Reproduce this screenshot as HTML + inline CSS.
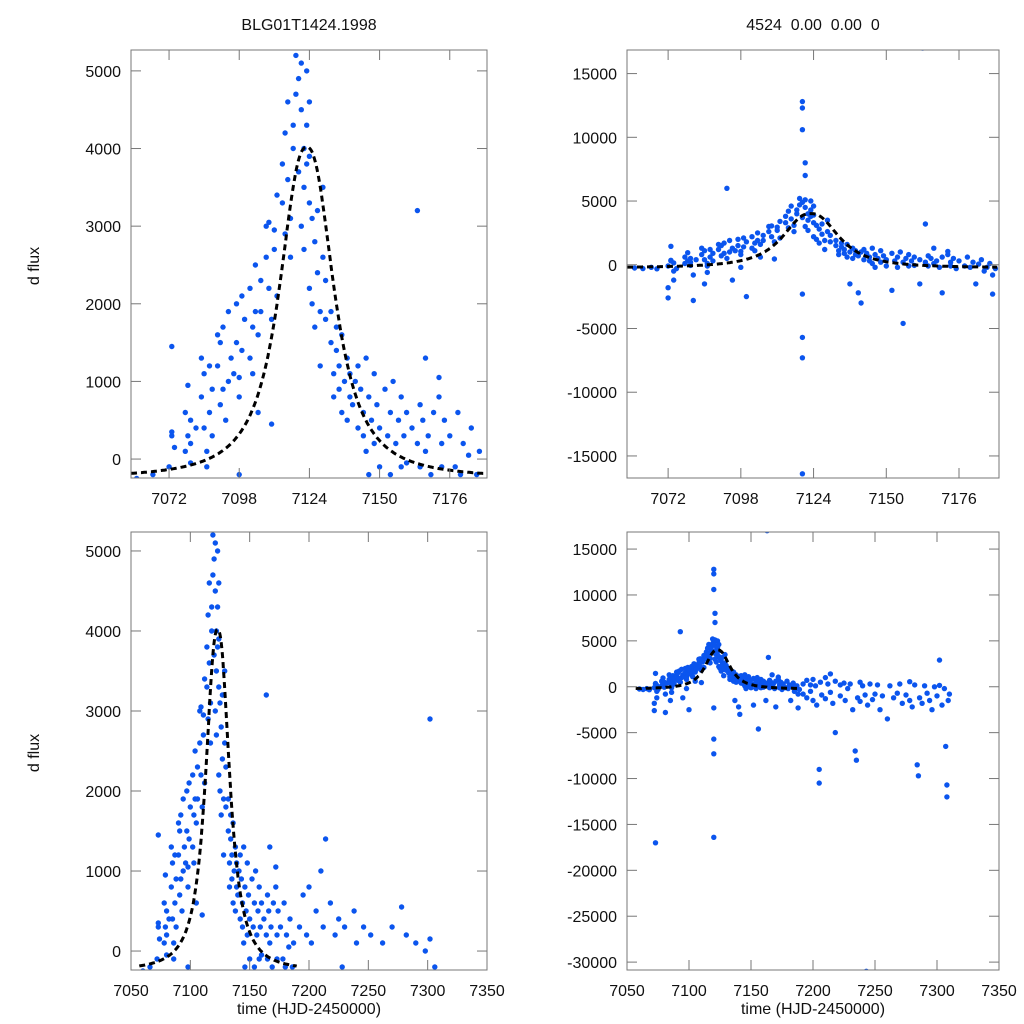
<!DOCTYPE html>
<html><head><meta charset="utf-8"><style>
html,body{margin:0;padding:0;background:#fff;overflow:hidden;width:1024px;height:1024px}
svg{display:block}
svg text{font-family:"Liberation Sans",sans-serif;font-size:16px;fill:#111}
</style></head><body>
<svg id="chart" width="1024" height="1024" xmlns="http://www.w3.org/2000/svg"></svg>
<script>
const times=[7060,7063,7066,7068,
7072,7072,7072,7073,7073,7073,7074,7074,7073,7074,7075,
7078,7078,7079,7079,7080,7080,7081,7081,7080,7082,
7084,7084,7085,7085,7086,7086,7087,7087,7088,7085,7086,7088,
7090,7090,7091,7091,7092,7092,7093,7093,7094,7094,7095,7095,
7096,7097,7097,7098,7098,7099,7099,7100,7100,7098,
7102,7102,7103,7103,7104,7104,7105,7105,7106,7106,
7108,7108,7109,7109,7110,7110,7111,7111,7112,7112,
7114,7114,7115,7115,7116,7116,7117,7117,7118,7118,
7119,7119,7120,7120,7120,7120,7120,7120,7120,7120,7120,7121,7121,7121,7121,7121,7122,7122,7122,7123,7123,7123,7124,7124,7124,7124,
7125,7125,7126,7126,7127,7127,7128,7128,7129,7129,7130,7130,
7132,7132,7133,7133,7134,7134,7135,7135,7136,7136,7137,7137,7138,7138,7139,7139,7140,7140,7141,7141,
7142,7142,7143,7144,7144,7145,7145,7146,7146,7147,7148,7148,7149,7150,7150,
7152,7152,7153,7154,7154,7155,7156,7156,7157,7158,7158,7159,7160,7160,
7162,7162,7163,7164,7164,7165,7165,7166,7167,7167,7168,7169,7170,7170,
7172,7172,7173,7173,7174,7175,7176,7178,7179,7180,7181,7182,7183,7184,7185,7186,7187,7188,7188,7189,
7192,7192,7195,7195,7198,7198,7200,7200,7202,7203,7205,7205,7206,7207,7210,7210,7212,7214,7214,7216,7218,7218,7222,7222,7225,7226,7228,7230,7232,7234,7235,7236,7238,7238,7240,7242,7243,7244,7246,7248,7250,7252,7254,7256,7260,7262,7265,7268,7270,7272,7275,7278,7278,7280,7282,7284,7285,7286,7288,7290,7292,7294,7296,7298,7300,7302,7302,7304,7306,7307,7308,7308,7309,7310];
const fluxes=[-250,-300,-200,-320,
-100,-1800,-2600,1450,300,350,-500,-1200,-17000,150,-300,
100,600,950,300,500,-50,-800,-2800,200,400,
1300,800,1100,400,100,-100,1200,600,300,-1500,-600,900,
1600,1200,700,1500,900,1700,6000,500,1000,1900,1300,-1200,
1100,2000,1500,800,1050,2100,1400,-2500,1800,-200,
1300,2200,1700,1100,2500,1900,1600,600,2300,1900,
3000,2600,3050,2200,1800,450,2700,2950,3400,2100,
3800,3300,4200,2900,3600,4600,2600,3100,4000,4300,
4700,5200,4900,3700,12800,12300,10600,-2300,-5700,-7300,-16400,8000,7000,4500,3000,5100,4000,3500,2700,4300,3800,5000,3300,2200,4600,3900,
3100,2000,2800,1700,3200,2400,1900,1200,2600,3500,1800,2300,
1500,1900,1100,800,1700,1400,900,1200,1600,600,1000,-1500,1300,500,800,1100,700,-2200,1000,-3000,
400,1200,900,300,600,1300,100,800,-200,500,1100,200,700,-100,400,
900,-2000,300,600,-200,1000,200,-4600,500,-100,800,300,600,-50,
400,-1500,17000,3200,200,700,-100,500,1300,100,300,-200,600,-2200,
1050,800,200,-100,500,-300,300,-100,600,-200,200,-1500,50,400,-500,-200,100,-2300,-800,-300,
300,-800,700,-1200,200,-500,800,-1500,100,-2000,-9000,-10500,500,-900,1000,-1300,300,1400,-600,-1800,600,-5000,200,-1000,400,-1500,-200,300,-2500,-7000,-8000,-1200,500,-1600,100,-900,-31000,-2000,300,-1400,-800,200,-2500,-1000,-3500,100,-1200,-700,300,-1800,-900,550,-1500,-2200,200,-8500,-9700,-1200,-1800,100,-700,-1500,-2500,0,-1000,2900,150,-2000,-200,-6500,-10700,-12000,-1500,-800];
const modelParams=[7123,4267,11.5,2.4,-250]; // t0, amplitude, width, shape, base
const modelRange=[7057,7190];
const topXTicks=[7072,7098,7124,7150,7176];
const botXTicks=[7050,7100,7150,7200,7250,7300,7350];
const leftTopYTicks=[0,1000,2000,3000,4000,5000];
const leftBotYTicks=[0,1000,2000,3000,4000,5000];
const rightTopYTicks=[-15000,-10000,-5000,0,5000,10000,15000];
const rightBotYTicks=[-30000,-25000,-20000,-15000,-10000,-5000,0,5000,10000,15000];

const NS="http://www.w3.org/2000/svg";
const svg=document.getElementById('chart');
function mk(tag,attrs,parent){const e=document.createElementNS(NS,tag);for(const k in attrs)e.setAttribute(k,attrs[k]);(parent||svg).appendChild(e);return e;}
function model(t){const [t0,A,w,p,b]=modelParams;return b+A/(1+Math.pow(Math.abs(t-t0)/w,p));}

const panels=[
 {id:'top-left',x0:131,x1:487,y0:50,y1:478,xd:[7057.9,7189.8],yd:[-244,5269],xt:topXTicks,yt:leftTopYTicks,ylab:true,xlab:false},
 {id:'top-right',x0:627,x1:999,y0:50,y1:478,xd:[7057.3,7190.3],yd:[-16730,16850],xt:topXTicks,yt:rightTopYTicks,ylab:false,xlab:false},
 {id:'bottom-left',x0:131,x1:487,y0:532,y1:970,xd:[7050,7350],yd:[-237,5237],xt:botXTicks,yt:leftBotYTicks,ylab:true,xlab:true},
 {id:'bottom-right',x0:627,x1:999,y0:532,y1:970,xd:[7050,7350],yd:[-30860,16860],xt:botXTicks,yt:rightBotYTicks,ylab:false,xlab:true}
];
panels.forEach((p,i)=>{
 const sx=v=>p.x0+(v-p.xd[0])/(p.xd[1]-p.xd[0])*(p.x1-p.x0);
 const sy=v=>p.y1-(v-p.yd[0])/(p.yd[1]-p.yd[0])*(p.y1-p.y0);
 const g=mk('g',{});
 
 
 const cp=mk('clipPath',{id:'clip'+i},g);
 mk('rect',{x:p.x0,y:p.y0,width:p.x1-p.x0,height:p.y1-p.y0},cp);
 const pts=mk('g',{'clip-path':'url(#clip'+i+')'},g);
 
 
 for(let k=0;k<times.length;k++){
  const c=mk('circle',{cx:sx(times[k]).toFixed(1),cy:sy(fluxes[k]).toFixed(1),r:2.7,fill:'#0b55ee'},pts);
  
  
 }
 let d='';
 const ta=Math.max(p.xd[0],modelRange[0]),tb=Math.min(p.xd[1],modelRange[1]);
 for(let t=ta;t<=tb;t+=(tb-ta)/400){d+=(d?'L':'M')+sx(t).toFixed(1)+','+sy(model(t)).toFixed(1);}
 const ln=mk('path',{d:d,fill:'none',stroke:'#000','stroke-width':3,'stroke-dasharray':'6,4','clip-path':'url(#clip'+i+')'},g);
 
 
 const fr=mk('rect',{x:p.x0,y:p.y0,width:p.x1-p.x0,height:p.y1-p.y0,fill:'none',stroke:'#777','stroke-width':1},g);
 
 
 p.xt.forEach(v=>{const x=sx(v);
  mk('line',{x1:x,x2:x,y1:p.y1,y2:p.y1-10,stroke:'#777'},g);
  mk('line',{x1:x,x2:x,y1:p.y0,y2:p.y0+10,stroke:'#777'},g);
  const t=mk('text',{x:x,y:p.y1+26,'text-anchor':'middle'},g);t.textContent=v;
  
  
 });
 p.yt.forEach(v=>{const y=sy(v);
  mk('line',{x1:p.x0,x2:p.x0+10,y1:y,y2:y,stroke:'#777'},g);
  mk('line',{x1:p.x1,x2:p.x1-10,y1:y,y2:y,stroke:'#777'},g);
  const t=mk('text',{x:p.x0-10,y:y+6,'text-anchor':'end'},g);t.textContent=v;
  
  
 });
 if(p.ylab){const t=mk('text',{transform:'translate(39,'+((p.y0+p.y1)/2+2)+') rotate(-90)','text-anchor':'middle'},g);t.textContent='d flux';
  
  }
 if(p.xlab){const t=mk('text',{x:(p.x0+p.x1)/2,y:1014,'text-anchor':'middle'},g);t.textContent='time (HJD-2450000)';
  
  }
});
const t1=mk('text',{x:309,y:30,'text-anchor':'middle'});t1.textContent='BLG01T1424.1998';


const t2=mk('text',{x:813,y:30,'text-anchor':'middle'});t2.textContent='4524\u00a0\u00a00.00\u00a0\u00a00.00\u00a0\u00a00';


</script>
</body></html>
